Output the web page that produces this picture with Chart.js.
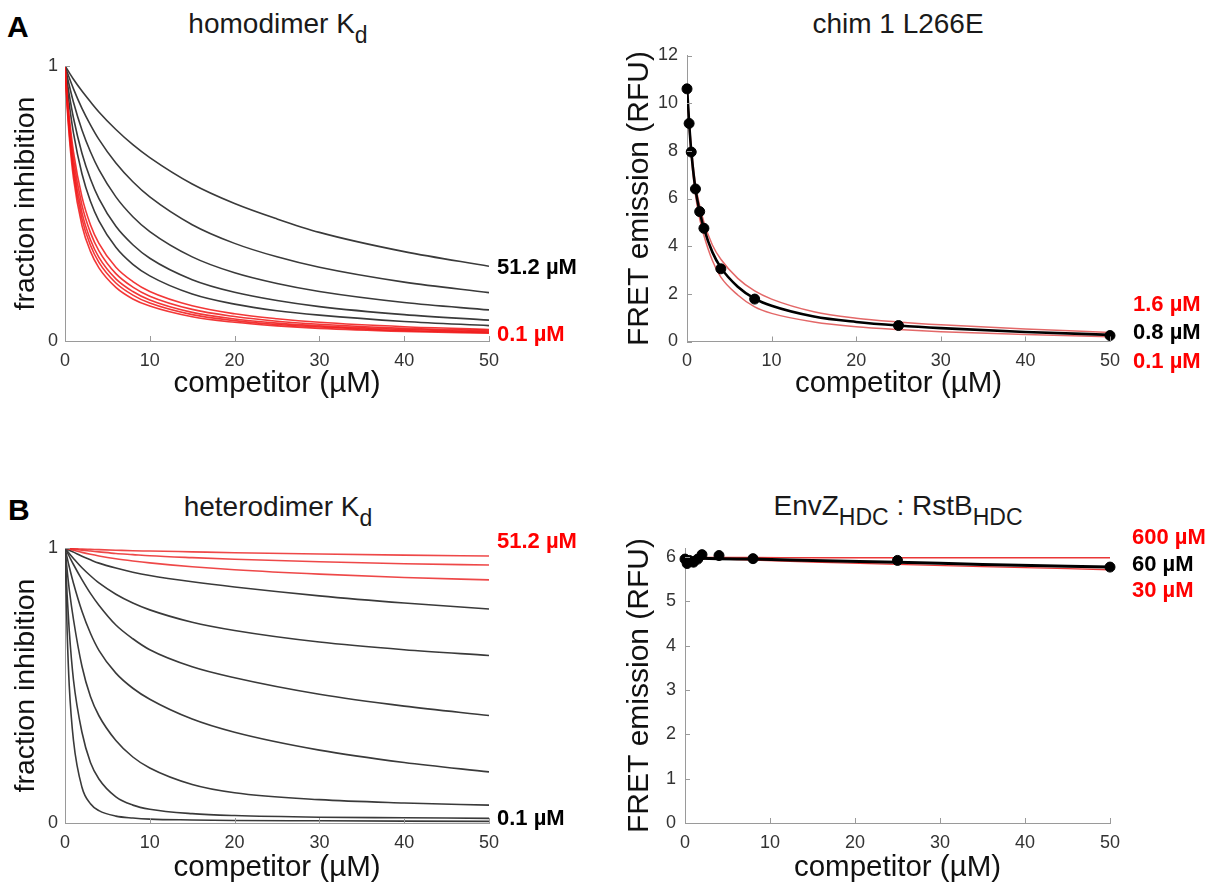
<!DOCTYPE html>
<html>
<head>
<meta charset="utf-8">
<script src="https://cdn.jsdelivr.net/npm/chart.js@4.4.1/dist/chart.umd.min.js"></script>
<style>
  body { margin: 0; background: #fff; font-family: "Liberation Sans", Arial, sans-serif; }
  #page { position: relative; width: 1211px; height: 892px; overflow: hidden; }
  canvas { position: absolute; }
  .title { position: absolute; font-size: 28px; line-height: 28px; color: #1a1a1a; white-space: nowrap; transform: translateX(-50%); }
  .title sub { font-size: 23px; vertical-align: -10px; line-height: 0; }
  .letter { position: absolute; font-weight: bold; font-size: 30px; line-height: 30px; color: #000; }
  .conc { position: absolute; font-family: "Liberation Sans Narrow", "Liberation Sans", sans-serif; font-weight: bold; font-size: 22px; line-height: 22px; white-space: nowrap; }
  .red { color: #ff0000; }
  .blk { color: #000; }
</style>
</head>
<body>
<div id="page">
  <div class="letter" style="left:7px; top:12px;">A</div>
  <div class="letter" style="left:8px; top:495px;">B</div>

  <div class="title" style="left:278px; top:10px;">homodimer K<sub>d</sub></div>
  <div class="title" style="left:898px; top:10px;">chim 1 L266E</div>
  <div class="title" style="left:278px; top:493px;">heterodimer K<sub>d</sub></div>
  <div class="title" style="left:898px; top:492px;">EnvZ<sub>HDC</sub> : RstB<sub>HDC</sub></div>

  <canvas id="homodimer" width="600" height="370" style="left:0; top:40px;"></canvas>
  <canvas id="chim" width="611" height="380" style="left:600px; top:30px;"></canvas>
  <canvas id="heterodimer" width="600" height="370" style="left:0; top:520px;"></canvas>
  <canvas id="envz" width="611" height="370" style="left:600px; top:520px;"></canvas>

  <div class="conc blk" style="left:497px; top:256px;">51.2 µM</div>
  <div class="conc red" style="left:497px; top:323px;">0.1 µM</div>

  <div class="conc red" style="left:1133px; top:293px;">1.6 µM</div>
  <div class="conc blk" style="left:1133px; top:321px;">0.8 µM</div>
  <div class="conc red" style="left:1133px; top:350px;">0.1 µM</div>

  <div class="conc red" style="left:497px; top:530px;">51.2 µM</div>
  <div class="conc blk" style="left:497px; top:807px;">0.1 µM</div>

  <div class="conc red" style="left:1132px; top:526px;">600 µM</div>
  <div class="conc blk" style="left:1132px; top:553px;">60 µM</div>
  <div class="conc red" style="left:1132px; top:579px;">30 µM</div>
</div>

<script>
// tick labels
const competitorTicks = [0, 10, 20, 30, 40, 50];
const fractionTicks = [0, 1];
const chimTicks = [0, 2, 4, 6, 8, 10, 12];
const envzTicks = [0, 1, 2, 3, 4, 5, 6];

// homodimer Kd panel (uM), one row per curve, read at homoX
const homoKd = [51.2, 25.6, 12.8, 6.4, 3.2, 1.6, 0.8, 0.4, 0.2, 0.1];
const homoX = [0, 0.25, 0.5, 1, 2, 3, 4, 6, 8, 10, 15, 20, 25, 30, 40, 50];
const homoFraction = [
  [1, 0.988, 0.976, 0.952, 0.909, 0.870, 0.833, 0.769, 0.714, 0.667, 0.571, 0.500, 0.444, 0.395, 0.325, 0.272],
  [1, 0.978, 0.957, 0.917, 0.846, 0.786, 0.733, 0.647, 0.579, 0.524, 0.423, 0.355, 0.306, 0.268, 0.214, 0.176],
  [1, 0.964, 0.930, 0.868, 0.767, 0.688, 0.623, 0.524, 0.452, 0.398, 0.306, 0.248, 0.209, 0.180, 0.140, 0.113],
  [1, 0.945, 0.896, 0.811, 0.683, 0.589, 0.518, 0.417, 0.350, 0.301, 0.223, 0.177, 0.147, 0.125, 0.096, 0.076],
  [1, 0.925, 0.861, 0.756, 0.608, 0.508, 0.437, 0.341, 0.279, 0.237, 0.171, 0.134, 0.110, 0.094, 0.071, 0.056],
  [1, 0.898, 0.815, 0.688, 0.524, 0.423, 0.355, 0.268, 0.216, 0.180, 0.128, 0.099, 0.081, 0.068, 0.052, 0.042],
  [1, 0.886, 0.796, 0.661, 0.494, 0.394, 0.328, 0.245, 0.196, 0.163, 0.115, 0.089, 0.072, 0.061, 0.046, 0.038],
  [1, 0.875, 0.778, 0.636, 0.467, 0.368, 0.304, 0.226, 0.180, 0.149, 0.104, 0.080, 0.065, 0.055, 0.042, 0.034],
  [1, 0.865, 0.762, 0.615, 0.444, 0.348, 0.286, 0.211, 0.167, 0.138, 0.096, 0.074, 0.060, 0.051, 0.038, 0.031],
  [1, 0.853, 0.744, 0.592, 0.420, 0.326, 0.266, 0.195, 0.153, 0.127, 0.088, 0.068, 0.055, 0.046, 0.035, 0.028],
];
const homoRed = [false, false, false, false, false, true, true, true, true, true];

// heterodimer Kd panel
const heteroKd = [51.2, 25.6, 12.8, 6.4, 3.2, 1.6, 0.8, 0.4, 0.2, 0.1];
const heteroX = [0, 0.25, 0.5, 1, 2, 3, 4, 6, 8, 10, 15, 20, 30, 40, 50];
const heteroFraction = [
  [1, 0.9995, 0.999, 0.998, 0.996, 0.995, 0.994, 0.992, 0.990, 0.989, 0.986, 0.983, 0.978, 0.974, 0.971],
  [1, 0.999, 0.998, 0.996, 0.992, 0.989, 0.986, 0.980, 0.976, 0.972, 0.965, 0.959, 0.950, 0.943, 0.938],
  [1, 0.998, 0.996, 0.992, 0.984, 0.977, 0.971, 0.961, 0.953, 0.946, 0.932, 0.921, 0.905, 0.893, 0.884],
  [1, 0.996, 0.992, 0.985, 0.970, 0.957, 0.945, 0.927, 0.912, 0.900, 0.877, 0.858, 0.826, 0.800, 0.778],
  [1, 0.990, 0.980, 0.962, 0.928, 0.899, 0.873, 0.832, 0.800, 0.775, 0.730, 0.700, 0.658, 0.630, 0.609],
  [1, 0.985, 0.970, 0.940, 0.885, 0.835, 0.792, 0.720, 0.670, 0.630, 0.568, 0.528, 0.468, 0.425, 0.391],
  [1, 0.965, 0.932, 0.872, 0.770, 0.690, 0.628, 0.545, 0.490, 0.450, 0.378, 0.330, 0.265, 0.220, 0.186],
  [1, 0.920, 0.850, 0.740, 0.570, 0.460, 0.390, 0.300, 0.240, 0.200, 0.140, 0.110, 0.085, 0.073, 0.065],
  [1, 0.830, 0.700, 0.520, 0.330, 0.220, 0.160, 0.095, 0.065, 0.050, 0.034, 0.027, 0.021, 0.019, 0.017],
  [1, 0.700, 0.500, 0.300, 0.130, 0.070, 0.045, 0.025, 0.018, 0.014, 0.011, 0.009, 0.008, 0.007, 0.006],
];
const heteroRed = [true, true, true, false, false, false, false, false, false, false];

// measured FRET points (competitor uM)
const competitorConc = [0, 0.25, 0.5, 1, 1.5, 2, 4, 8, 25, 50];
const chimFret = [10.6, 9.15, 7.95, 6.4, 5.45, 4.75, 3.05, 1.78, 0.67, 0.25];
const envzFret = [5.95, 5.85, 5.92, 5.88, 5.95, 6.05, 6.03, 5.96, 5.92, 5.77];

// fitted curves, chim 1 L266E
const chimFitX = [0, 0.25, 0.5, 1, 1.5, 2, 3, 4, 6, 8, 10, 15, 20, 25, 30, 40, 50];
const chimFit08 = [10.7, 9.2, 8.0, 6.4, 5.45, 4.75, 3.75, 3.1, 2.3, 1.8, 1.5, 1.05, 0.82, 0.67, 0.56, 0.4, 0.28];
const chimFit16 = [10.7, 9.3, 8.2, 6.6, 5.7, 5.0, 4.05, 3.45, 2.65, 2.12, 1.78, 1.25, 0.98, 0.82, 0.7, 0.52, 0.38];
const chimFit01 = [10.7, 9.05, 7.8, 6.15, 5.15, 4.45, 3.4, 2.7, 1.95, 1.45, 1.18, 0.82, 0.62, 0.5, 0.41, 0.29, 0.2];

// fitted curves, EnvZ:RstB
const envzFitX = [0, 1, 2, 4, 8, 15, 25, 35, 50];
const envzFit600 = [6.0, 5.99, 5.99, 5.99, 5.99, 5.98, 5.98, 5.98, 5.98];
const envzFit60 = [5.98, 5.98, 5.97, 5.96, 5.95, 5.92, 5.88, 5.83, 5.77];
const envzFit30 = [5.98, 5.97, 5.96, 5.95, 5.93, 5.88, 5.83, 5.78, 5.71];

const fontFamily = "'Liberation Sans', Arial, sans-serif";
const axisColor = "#9a9a9a";
const tickColor = "#333";
Chart.defaults.font.family = fontFamily;

function toPoints(xs, ys) {
  return xs.map((x, i) => ({ x: x, y: ys[i] }));
}

// MATLAB style ticks pointing into the plot
const innerTicks = {
  id: "innerTicks",
  afterDraw(chart) {
    const { ctx, chartArea, scales } = chart;
    ctx.save();
    ctx.strokeStyle = axisColor;
    ctx.lineWidth = 1;
    ctx.beginPath();
    for (const t of scales.x.ticks) {
      const px = Math.round(scales.x.getPixelForValue(t.value)) + 0.5;
      ctx.moveTo(px, chartArea.bottom);
      ctx.lineTo(px, chartArea.bottom - 5);
    }
    for (const t of scales.y.ticks) {
      const py = Math.round(scales.y.getPixelForValue(t.value)) + 0.5;
      ctx.moveTo(chartArea.left, py);
      ctx.lineTo(chartArea.left + 5, py);
    }
    ctx.stroke();
    ctx.restore();
  },
};

function makeOptions(cfg) {
  return {
    responsive: false,
    animation: false,
    layout: { padding: { top: cfg.padTop, right: cfg.padRight, left: 0, bottom: 0 } },
    plugins: { legend: { display: false }, tooltip: { enabled: false } },
    elements: { point: { radius: 0 } },
    scales: {
      x: {
        type: "linear",
        min: 0,
        max: 50,
        grid: { display: false, drawTicks: false },
        border: { color: axisColor, width: 1 },
        afterBuildTicks: (s) => { s.ticks = competitorTicks.map((v) => ({ value: v })); },
        afterFit: (s) => { s.height = cfg.xHeight; },
        ticks: { font: { size: 18 }, color: tickColor, padding: 9, maxRotation: 0 },
        title: {
          display: true,
          text: "competitor (µM)",
          font: { size: 29.5 },
          color: "#111",
          padding: { top: 0, bottom: cfg.xTitlePad },
        },
      },
      y: {
        type: "linear",
        min: cfg.yMin,
        max: cfg.yMax,
        grid: { display: false, drawTicks: false },
        border: { color: axisColor, width: 1 },
        afterBuildTicks: (s) => { s.ticks = cfg.yTicks.map((v) => ({ value: v })); },
        afterFit: (s) => { s.width = cfg.yWidth; },
        ticks: { font: { size: 18 }, color: tickColor, padding: cfg.yTickPad },
        title: {
          display: true,
          text: cfg.yTitle,
          font: { size: cfg.yTitleSize },
          color: "#111",
          padding: { top: cfg.yTitlePad, bottom: 0 },
        },
      },
    },
  };
}

function curveSet(xs, rows, redFlags, redColor) {
  return rows.map((ys, i) => ({
    data: toPoints(xs, ys),
    borderColor: redFlags[i] ? redColor : "#3a3a3a",
    borderWidth: 1.6,
    cubicInterpolationMode: "monotone",
    pointRadius: 0,
    order: redFlags[i] ? 0 : 1,
  }));
}

new Chart(document.getElementById("homodimer"), {
  type: "line",
  data: { datasets: curveSet(homoX, homoFraction, homoRed, "rgba(240, 20, 20, 0.85)") },
  options: makeOptions({
    padTop: 26, padRight: 111, xHeight: 69, xTitlePad: 8,
    yMin: 0, yMax: 1, yTicks: fractionTicks, yWidth: 65, yTickPad: 7,
    yTitle: "fraction inhibition", yTitleSize: 28.5, yTitlePad: 9,
  }),
  plugins: [innerTicks],
});

new Chart(document.getElementById("heterodimer"), {
  type: "line",
  data: { datasets: curveSet(heteroX, heteroFraction, heteroRed, "rgba(235, 40, 40, 0.85)") },
  options: makeOptions({
    padTop: 28, padRight: 111, xHeight: 67, xTitlePad: 4,
    yMin: 0, yMax: 1, yTicks: fractionTicks, yWidth: 65, yTickPad: 7,
    yTitle: "fraction inhibition", yTitleSize: 28.5, yTitlePad: 9,
  }),
  plugins: [innerTicks],
});

new Chart(document.getElementById("chim"), {
  type: "line",
  data: {
    datasets: [
      {
        data: toPoints(competitorConc, chimFret),
        showLine: false,
        pointRadius: 5,
        pointBackgroundColor: "#000",
        pointBorderColor: "#000",
        clip: false,
      },
      { data: toPoints(chimFitX, chimFit08), borderColor: "#000", borderWidth: 2.6, cubicInterpolationMode: "monotone" },
      { data: toPoints(chimFitX, chimFit16), borderColor: "rgba(215, 40, 40, 0.7)", borderWidth: 1.5, cubicInterpolationMode: "monotone" },
      { data: toPoints(chimFitX, chimFit01), borderColor: "rgba(215, 40, 40, 0.7)", borderWidth: 1.5, cubicInterpolationMode: "monotone" },
    ],
  },
  options: makeOptions({
    padTop: 25.5, padRight: 101, xHeight: 68.5, xTitlePad: 8,
    yMin: 0, yMax: 12, yTicks: chimTicks, yWidth: 87, yTickPad: 9,
    yTitle: "FRET emission (RFU)", yTitleSize: 30, yTitlePad: 22,
  }),
  plugins: [innerTicks],
});

new Chart(document.getElementById("envz"), {
  type: "line",
  data: {
    datasets: [
      {
        data: toPoints(competitorConc, envzFret),
        showLine: false,
        pointRadius: 5,
        pointBackgroundColor: "#000",
        pointBorderColor: "#000",
        clip: false,
      },
      { data: toPoints(envzFitX, envzFit60), borderColor: "#000", borderWidth: 3, cubicInterpolationMode: "monotone" },
      { data: toPoints(envzFitX, envzFit600), borderColor: "rgba(230, 20, 20, 0.85)", borderWidth: 1.3, cubicInterpolationMode: "monotone" },
      { data: toPoints(envzFitX, envzFit30), borderColor: "rgba(230, 20, 20, 0.85)", borderWidth: 1.3, cubicInterpolationMode: "monotone" },
    ],
  },
  options: makeOptions({
    padTop: 28, padRight: 101, xHeight: 67, xTitlePad: 4,
    yMin: 0, yMax: 6.2, yTicks: envzTicks, yWidth: 85, yTickPad: 9,
    yTitle: "FRET emission (RFU)", yTitleSize: 30, yTitlePad: 22,
  }),
  plugins: [innerTicks],
});
</script>
</body>
</html>
